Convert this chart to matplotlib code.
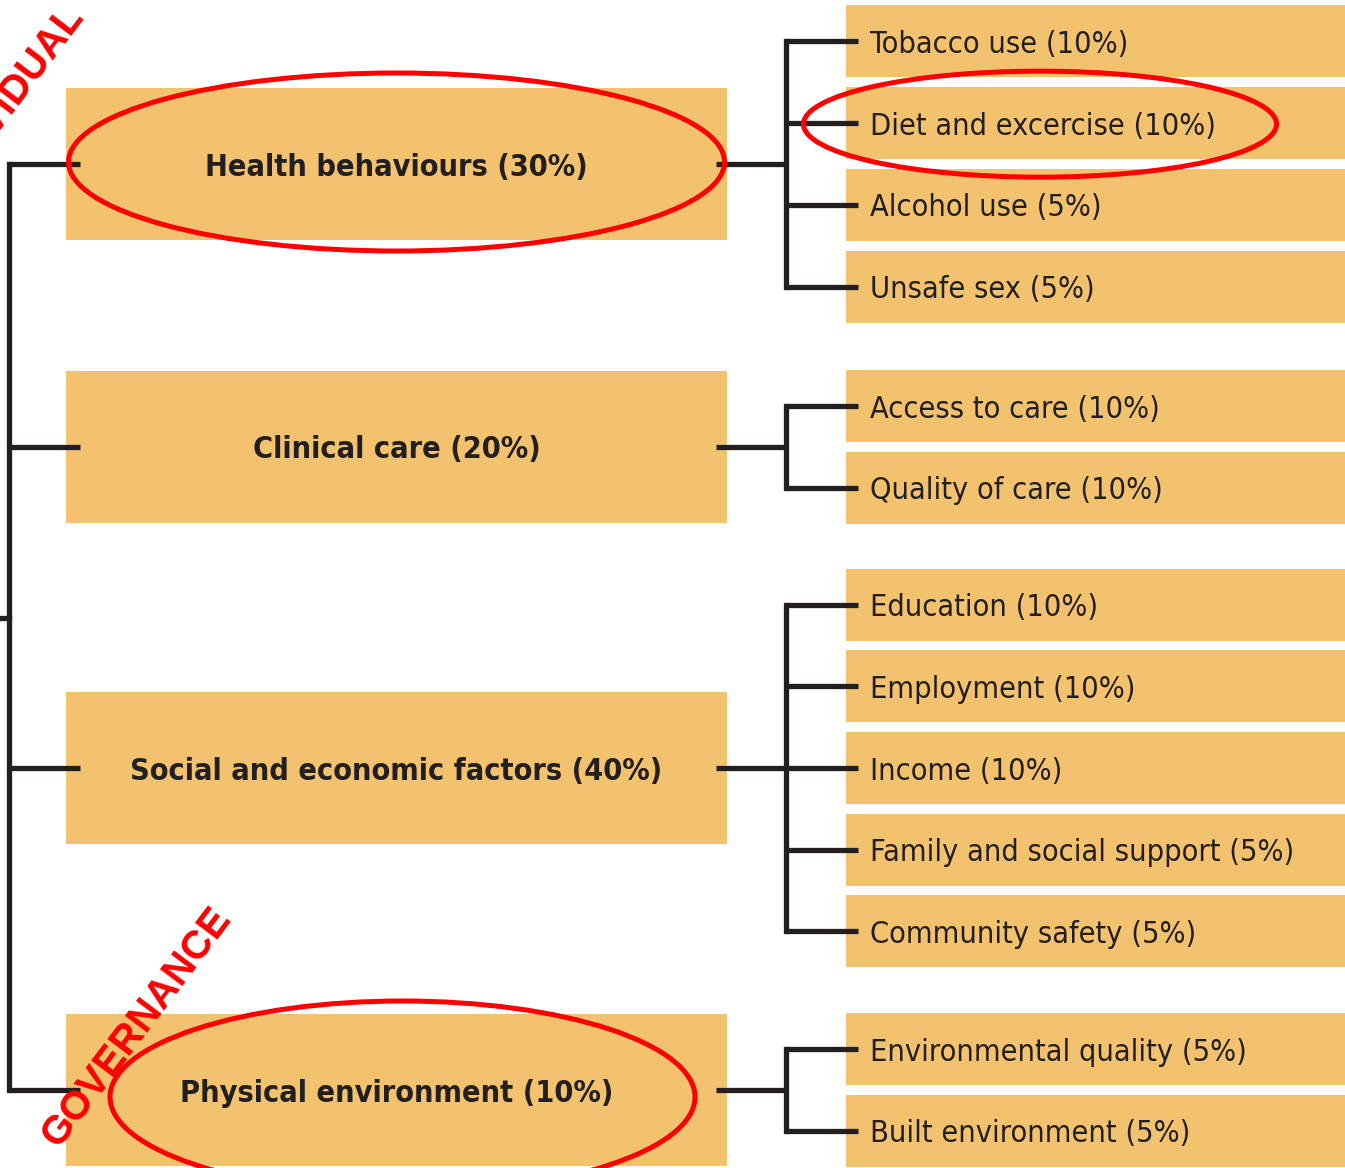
import matplotlib
matplotlib.use("Agg")
import matplotlib.pyplot as plt
from matplotlib import font_manager
from matplotlib.patches import Rectangle, Ellipse

# --- data -------------------------------------------------------------
parents = ['Health behaviours (30%)', 'Clinical care (20%)',
           'Social and economic factors (40%)', 'Physical environment (10%)']
children = [
    ['Tobacco use (10%)', 'Diet and excercise (10%)', 'Alcohol use (5%)', 'Unsafe sex (5%)'],
    ['Access to care (10%)', 'Quality of care (10%)'],
    ['Education (10%)', 'Employment (10%)', 'Income (10%)',
     'Family and social support (5%)', 'Community safety (5%)'],
    ['Environmental quality (5%)', 'Built environment (5%)'],
]
highlighted = ['Health behaviours (30%)', 'Diet and excercise (10%)', 'Physical environment (10%)']
side_labels = ['INDIVIDUAL', 'GOVERNANCE']

# --- layout -----------------------------------------------------------
W, H = 1345, 1168
box_col = '#F3C26E'
ink = '#231F20'
red = '#FF0000'

# condensed font if there is one, otherwise plain DejaVu a bit smaller
has_cond = any(f.name == 'DejaVu Sans' and 'condensed' in str(f.stretch).lower()
               for f in font_manager.fontManager.ttflist)
if has_cond:
    txt_kw = dict(family='DejaVu Sans', fontstretch='condensed')
    fs_parent, fs_child = 22, 22
else:
    txt_kw = dict(family='DejaVu Sans')
    fs_parent, fs_child = 20, 20

parent_cy = [164, 447, 768, 1090]
p_x0, p_x1, p_h = 66, 727, 152
c_x0, c_x1, c_h, pitch = 846, 1345, 72, 81.7
trunk_x, branch_x = 9, 786
lw = 3.8

fig = plt.figure(figsize=(W / 100, H / 100), dpi=100)
ax = fig.add_axes([0, 0, 1, 1])
ax.set_xlim(0, W)
ax.set_ylim(H, 0)
ax.axis('off')

centers = {}
for cy, name, kids in zip(parent_cy, parents, children):
    ax.add_patch(Rectangle((p_x0, cy - p_h / 2), p_x1 - p_x0, p_h, color=box_col, lw=0, zorder=1))
    ax.text((p_x0 + p_x1) / 2, cy + 3, name, ha='center', va='center', fontsize=fs_parent,
            fontweight='bold', color=ink, zorder=3, **txt_kw)
    centers[name] = ((p_x0 + p_x1) / 2, cy)
    # stub from trunk
    ax.plot([trunk_x, 80], [cy, cy], color=ink, lw=lw, solid_capstyle='butt', zorder=2)
    # stub to branch
    ax.plot([716, branch_x], [cy, cy], color=ink, lw=lw, solid_capstyle='butt', zorder=2)
    n = len(kids)
    kid_cy = [cy + (i - (n - 1) / 2) * pitch for i in range(n)]
    ax.plot([branch_x, branch_x], [kid_cy[0], kid_cy[-1]], color=ink, lw=lw, zorder=2)
    for ky, kid in zip(kid_cy, kids):
        ax.add_patch(Rectangle((c_x0, ky - c_h / 2), c_x1 - c_x0, c_h, color=box_col, lw=0, zorder=1))
        ax.plot([branch_x, 858], [ky, ky], color=ink, lw=lw, solid_capstyle='butt', zorder=2)
        ax.text(870, ky + 3, kid, ha='left', va='center', fontsize=fs_child, color=ink,
                zorder=3, **txt_kw)
        centers[kid] = (1040, ky)

# trunk
ax.plot([trunk_x, trunk_x], [parent_cy[0], parent_cy[-1]], color=ink, lw=lw, zorder=2)
ax.plot([0, trunk_x], [618, 618], color=ink, lw=lw, zorder=2)

# red highlight ellipses
ell_size = {'Health behaviours (30%)': (656, 178, 0, -2),
            'Diet and excercise (10%)': (473, 106, 0, 1),
            'Physical environment (10%)': (585, 192, 6, 7)}
for name in highlighted:
    cx, cy = centers[name]
    w, h, dx, dy = ell_size[name]
    ax.add_patch(Ellipse((cx + dx, cy + dy), w, h, fill=False, ec=red, lw=3.6, zorder=4))

# red diagonal labels
red_kw = dict(rotation=53, rotation_mode='anchor', ha='center', va='center', fontsize=29,
              fontweight='bold', color=red, family=['Liberation Sans', 'DejaVu Sans'], zorder=5)
ax.text(6, 101, side_labels[0], **red_kw)
ax.text(136, 1027, side_labels[1], **red_kw)

fig.savefig('out.png', dpi=100)
